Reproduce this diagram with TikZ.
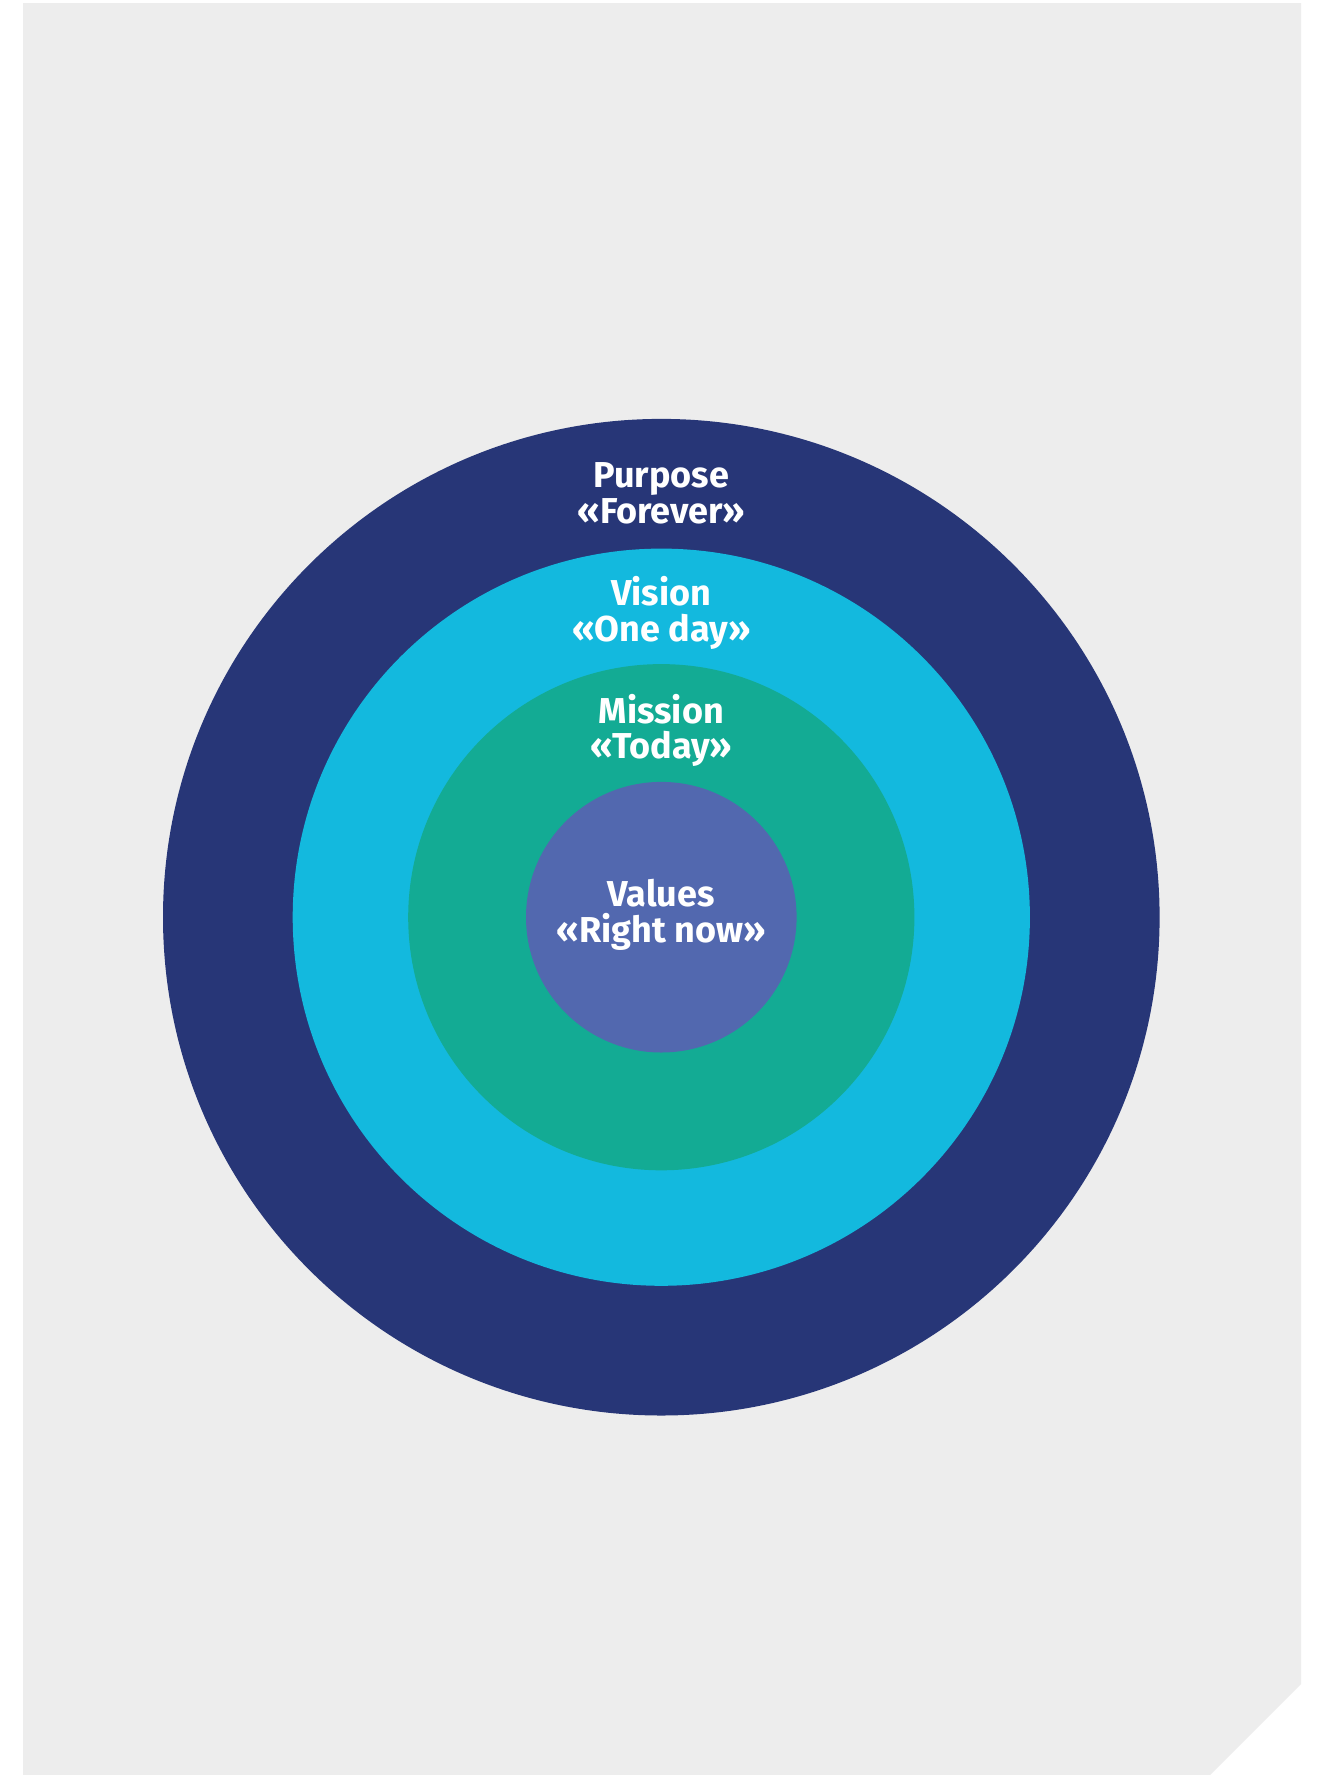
\documentclass[tikz,border=0pt]{standalone}
\usepackage{fontspec}
\setmainfont{Fira Sans}
\definecolor{bgray}{HTML}{EDEDED}
\definecolor{cpurpose}{HTML}{273677}
\definecolor{cvision}{HTML}{13B9DE}
\definecolor{cmission}{HTML}{13AB94}
\definecolor{cvalues}{HTML}{5268AF}
\tikzset{
  ring/.style={circle, inner sep=0pt, minimum size=#1},
  lbl/.style={text=white, font=\fontsize{36}{35}\selectfont\bfseries, anchor=base, inner sep=0pt}
}
\begin{document}
\begin{tikzpicture}[x=1pt,y=-1pt]
\useasboundingbox (0,0) rectangle (1326,1775);
\fill[white] (0,0) rectangle (1326,1775);
\fill[bgray] (23,3) -- (1301,3) -- (1301,1684) -- (1210,1775) -- (23,1775) -- cycle;
\coordinate (c) at (661.3,917.2);
\node[ring=996.6pt, fill=cpurpose] (purpose) at (c) {};
\node[ring=737.2pt, fill=cvision] (vision) at (c) {};
\node[ring=506.2pt, fill=cmission] (mission) at (c) {};
\node[ring=270.6pt, fill=cvalues] (values) at (c) {};
\node[lbl] (t1a) at (661.3,487) {Purpose};
\node[lbl] (t1b) at (661.3,523) {«Forever»};
\node[lbl] (t2a) at (661.3,605) {Vision};
\node[lbl] (t2b) at (661.3,641) {«One day»};
\node[lbl] (t3a) at (661.3,723.3) {Mission};
\node[lbl] (t3b) at (661.3,758) {«Today»};
\node[lbl] (t4a) at (661.3,906) {Values};
\node[lbl] (t4b) at (661.3,942.5) {«Right now»};
\end{tikzpicture}
\end{document}
